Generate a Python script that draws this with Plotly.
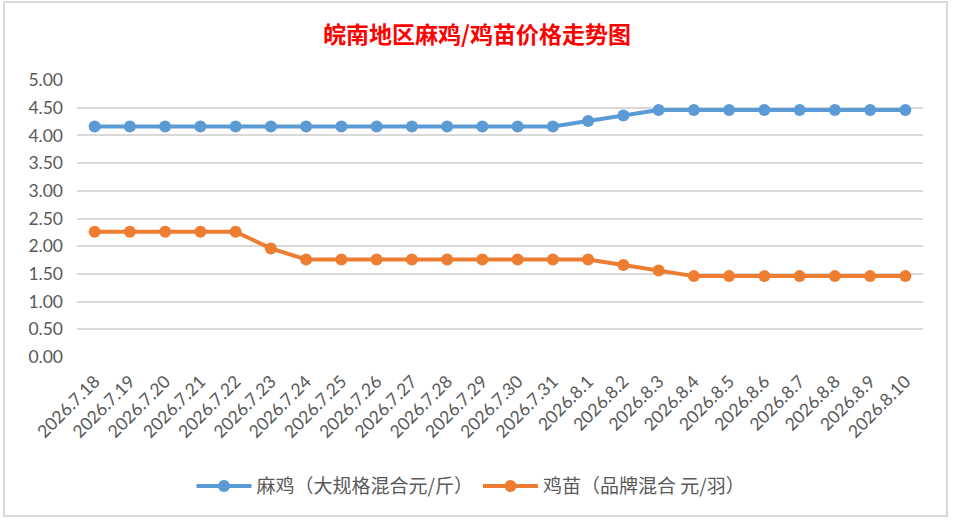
"""
皖南地区麻鸡/鸡苗价格走势图
"""
import plotly.graph_objects as go

dates = ["2026.7.18", "2026.7.19", "2026.7.20", "2026.7.21", "2026.7.22",
         "2026.7.23", "2026.7.24", "2026.7.25", "2026.7.26", "2026.7.27",
         "2026.7.28", "2026.7.29", "2026.7.30", "2026.7.31", "2026.8.1",
         "2026.8.2", "2026.8.3", "2026.8.4", "2026.8.5", "2026.8.6",
         "2026.8.7", "2026.8.8", "2026.8.9", "2026.8.10"]

maji = [4.16, 4.16, 4.16, 4.16, 4.16, 4.16, 4.16, 4.16, 4.16, 4.16,
        4.16, 4.16, 4.16, 4.16, 4.26, 4.36, 4.46, 4.46, 4.46, 4.46,
        4.46, 4.46, 4.46, 4.46]

jimiao = [2.26, 2.26, 2.26, 2.26, 2.26, 1.96, 1.76, 1.76, 1.76, 1.76,
          1.76, 1.76, 1.76, 1.76, 1.76, 1.66, 1.56, 1.46, 1.46, 1.46,
          1.46, 1.46, 1.46, 1.46]

names = ["麻鸡（大规格混合元/斤）", "鸡苗（品牌混合 元/羽）"]
colors = ["#5B9BD5", "#ED7D31"]
yticks = [0, 0.5, 1, 1.5, 2, 2.5, 3, 3.5, 4, 4.5, 5]

fig = go.Figure()
for name, vals, col in zip(names, [maji, jimiao], colors):
    fig.add_trace(go.Scatter(x=dates, y=vals, name=name, mode="lines+markers",
                             line=dict(color=col, width=4),
                             marker=dict(color=col, size=12)))

fig.update_layout(
    width=954, height=523,
    paper_bgcolor="white", plot_bgcolor="white",
    margin=dict(l=77, r=31, t=80, b=166),
    title=dict(text="<b>皖南地区麻鸡/鸡苗价格走势图</b>",
               x=0.5, xanchor="center", y=1 - 35 / 523, yanchor="middle",
               font=dict(family="Noto Sans CJK SC", size=23, color="#FF0000")),
    legend=dict(orientation="h", x=(471 - 77) / 846, xanchor="center",
                y=-0.466, yanchor="middle",
                font=dict(family="Noto Sans CJK SC", size=19, color="#595959"),
                itemwidth=55),
    showlegend=True,
)
fig.update_xaxes(type="category", range=[-0.5, len(dates) - 0.5],
                 tickangle=-45, showgrid=False, showline=False,
                 ticks="", automargin=False, ticklabelstandoff=10,
                 tickfont=dict(family="Lato", size=17.5, color="#595959"))
fig.update_yaxes(range=[0, 5], tickvals=yticks, tickformat=".2f",
                 showgrid=True, gridcolor="#D9D9D9", gridwidth=1.5,
                 zeroline=False, showline=False, ticks="", automargin=False,
                 ticklabelstandoff=13,
                 tickfont=dict(family="Lato", size=17.5, color="#595959"))

# chart border
fig.add_shape(type="rect", xref="paper", yref="paper",
              x0=-73 / 846, x1=1 + 24 / 846, y0=-159 / 277, y1=1 + 78 / 277,
              line=dict(color="#D9D9D9", width=2))

fig.write_html("out.html", config={"displayModeBar": False},
               post_script="document.body.style.margin='0';")
